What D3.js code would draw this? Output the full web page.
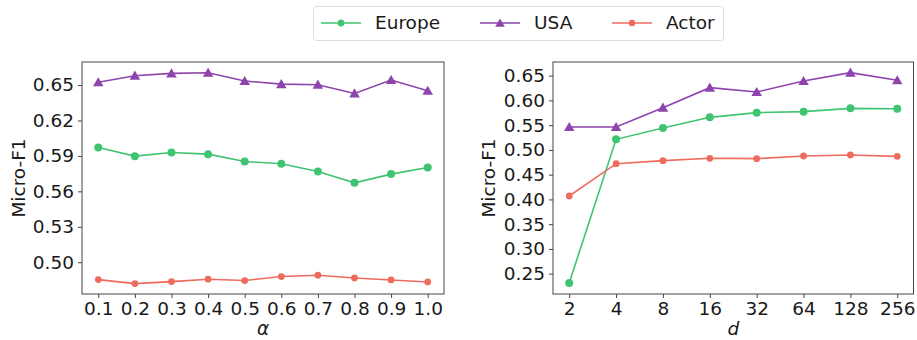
<!DOCTYPE html>
<html>
<head>
<meta charset="utf-8">
<script src="https://cdn.jsdelivr.net/npm/d3@7"></script>
<style>
  html, body { margin: 0; padding: 0; background: #fff; }
  svg { display: block; font-family: "DejaVu Sans", sans-serif; }
</style>
</head>
<body>
<svg id="chart" width="917" height="340"></svg>
<script>
// Sensitivity to alpha
const alphaLabels = ["0.1","0.2","0.3","0.4","0.5","0.6","0.7","0.8","0.9","1.0"];
const alphaEurope = [0.5972,0.5898,0.5929,0.5915,0.5853,0.5833,0.5768,0.5672,0.5746,0.5802];
const alphaUSA    = [0.6523,0.6579,0.6599,0.6604,0.6534,0.6508,0.6503,0.6429,0.6542,0.6452];
const alphaActor  = [0.4853,0.4819,0.4836,0.4856,0.4845,0.4879,0.4890,0.4867,0.4850,0.4833];
const alphaTicks  = [0.50,0.53,0.56,0.59,0.62,0.65];

// Sensitivity to embedding dimension d
const dimLabels = ["2","4","8","16","32","64","128","256"];
const dimEurope = [0.2311,0.5214,0.5443,0.5658,0.5753,0.5773,0.5840,0.5833];
const dimUSA    = [0.5463,0.5463,0.5854,0.6258,0.6170,0.6392,0.6561,0.6406];
const dimActor  = [0.4069,0.4722,0.4783,0.4830,0.4823,0.4877,0.4897,0.4870];
const dimTicks  = [0.25,0.30,0.35,0.40,0.45,0.50,0.55,0.60,0.65];

const seriesNames = ["Europe","USA","Actor"];
const colors = {Europe: "#40c472", USA: "#8e44ad", Actor: "#ee6b5e"};
const shapes = {Europe: "circle", USA: "triangle", Actor: "circle"};

const svg = d3.select("#chart");
const FS = 18.5;

function drawPanel(opt) {
  const {left, right, top, bottom, labels, series, ticks, yDomain, fmt, xTitle} = opt;
  const g = svg.append("g");
  const pad = (right - left) * 0.045;
  const x = d3.scalePoint().domain(labels).range([left + pad, right - pad]);
  const y = d3.scaleLinear().domain(yDomain).range([bottom, top]);

  // frame
  g.append("rect").attr("x", left).attr("y", top)
    .attr("width", right - left).attr("height", bottom - top)
    .attr("fill", "none").attr("stroke", "#444").attr("stroke-width", 1);

  const yAxis = d3.axisLeft(y).tickValues(ticks).tickFormat(d3.format(fmt)).tickSize(4).tickPadding(4);
  const ya = g.append("g").attr("transform", `translate(${left},0)`).call(yAxis);
  const xAxis = d3.axisBottom(x).tickSize(4).tickPadding(4);
  const xa = g.append("g").attr("transform", `translate(0,${bottom})`).call(xAxis);
  [ya, xa].forEach(a => {
    a.select(".domain").remove();
    a.selectAll(".tick line").attr("stroke", "#444");
    a.selectAll(".tick text").attr("fill", "#1a1a1a").style("font-size", FS + "px")
      .style("font-family", "DejaVu Sans");
  });

  const line = d3.line().x((d, i) => x(labels[i])).y(d => y(d));
  seriesNames.forEach(name => {
    const vals = series[name];
    g.append("path").datum(vals).attr("d", line)
      .attr("fill", "none").attr("stroke", colors[name]).attr("stroke-width", 1.6);
    const sym = shapes[name] === "triangle"
      ? d3.symbol().type(d3.symbolTriangle).size(48)
      : d3.symbol().type(d3.symbolCircle).size(name === "Actor" ? 36 : 50);
    g.selectAll(null).data(vals).enter().append("path")
      .attr("d", sym)
      .attr("transform", (d, i) => `translate(${x(labels[i])},${y(d) + (shapes[name] === "triangle" ? 1 : 0)})`)
      .attr("fill", colors[name]);
  });

  g.append("text").attr("x", (left + right) / 2).attr("y", 335)
    .attr("text-anchor", "middle").style("font-size", FS + "px").style("font-style", "italic")
    .attr("fill", "#1a1a1a").text(xTitle);

  g.append("text")
    .attr("transform", `translate(${opt.ylabelX},${(top + bottom) / 2}) rotate(-90)`)
    .attr("text-anchor", "middle").attr("dy", "0.35em")
    .style("font-size", FS + "px").attr("fill", "#1a1a1a").text("Micro-F1");
}

drawPanel({
  left: 82, right: 444, top: 62, bottom: 294,
  labels: alphaLabels,
  series: {Europe: alphaEurope, USA: alphaUSA, Actor: alphaActor},
  ticks: alphaTicks, yDomain: [0.4731, 0.6695], fmt: ".2f", xTitle: "α", ylabelX: 19
});

drawPanel({
  left: 553, right: 913.5, top: 62, bottom: 294,
  labels: dimLabels,
  series: {Europe: dimEurope, USA: dimUSA, Actor: dimActor},
  ticks: dimTicks, yDomain: [0.2089, 0.6776], fmt: ".2f", xTitle: "d", ylabelX: 489
});

// legend
const lg = svg.append("g");
lg.append("rect").attr("x", 313.5).attr("y", 6.5).attr("width", 410).attr("height", 34)
  .attr("rx", 3).attr("fill", "#fff").attr("stroke", "#ddd").attr("stroke-width", 1);
const legendX = {Europe: 321, USA: 480, Actor: 612};
seriesNames.forEach(name => {
  const x0 = legendX[name];
  lg.append("line").attr("x1", x0).attr("x2", x0 + 40).attr("y1", 23).attr("y2", 23)
    .attr("stroke", colors[name]).attr("stroke-width", 1.6);
  const sym = shapes[name] === "triangle"
    ? d3.symbol().type(d3.symbolTriangle).size(40)
    : d3.symbol().type(d3.symbolCircle).size(name === "Actor" ? 32 : 36);
  lg.append("path").attr("d", sym)
    .attr("transform", `translate(${x0 + 20},${shapes[name] === "triangle" ? 24 : 23})`)
    .attr("fill", colors[name]);
  lg.append("text").attr("x", x0 + 54).attr("y", 23).attr("dy", "0.35em")
    .style("font-size", FS + "px").attr("fill", "#1a1a1a").text(name);
});
</script>
</body>
</html>
